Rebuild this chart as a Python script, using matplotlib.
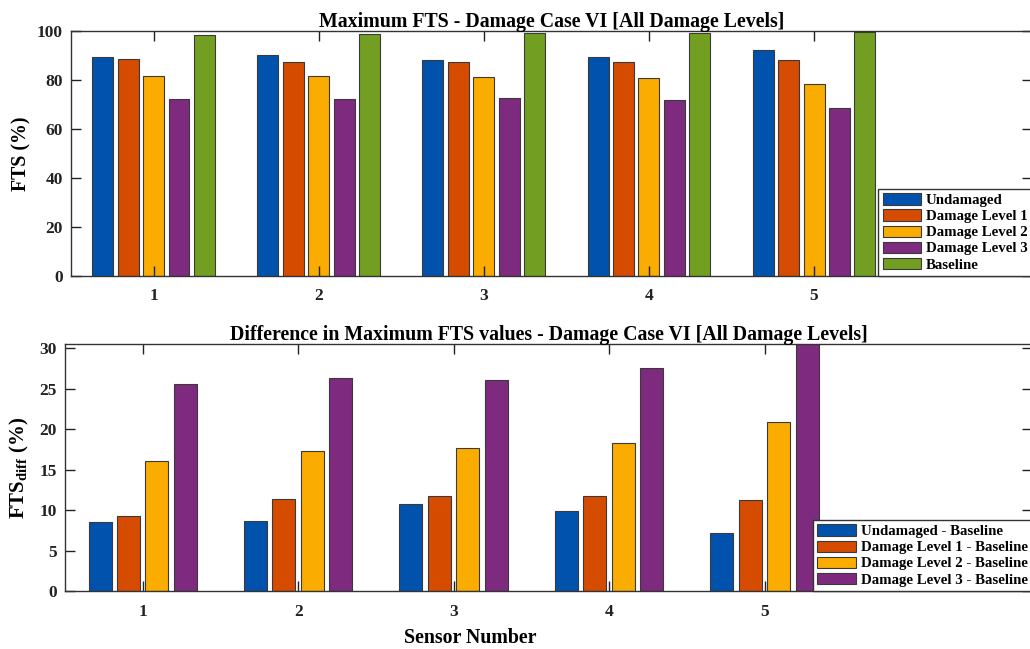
import matplotlib
matplotlib.use('Agg')
import matplotlib.pyplot as plt
import numpy as np

plt.rcParams['font.family'] = ['Liberation Serif', 'DejaVu Serif']
plt.rcParams['font.weight'] = 'bold'
plt.rcParams['mathtext.fontset'] = 'custom'
plt.rcParams['mathtext.rm'] = 'Liberation Serif:bold'
plt.rcParams['mathtext.bf'] = 'Liberation Serif:bold'

#data
sensors = [1, 2, 3, 4, 5]
undamaged = [89.5, 90.1, 88.3, 89.2, 92.1]
level1 = [88.7, 87.5, 87.2, 87.3, 88.0]
level2 = [81.7, 81.6, 81.3, 80.9, 78.2]
level3 = [72.2, 72.2, 72.7, 71.7, 68.4]
baseline = [98.2, 98.9, 99.2, 99.2, 99.6]
top_labels = ['Undamaged', 'Damage Level 1', 'Damage Level 2', 'Damage Level 3', 'Baseline']

diff_undamaged = [8.48, 8.6, 10.78, 9.88, 7.16]
diff_level1 = [9.22, 11.4, 11.77, 11.77, 11.23]
diff_level2 = [16.05, 17.28, 17.65, 18.3, 20.86]
diff_level3 = [25.6, 26.3, 26.1, 27.5, 31.2]
bottom_labels = ['Undamaged - Baseline', 'Damage Level 1 - Baseline',
                 'Damage Level 2 - Baseline', 'Damage Level 3 - Baseline']

colors = ['#0052AC', '#D54B00', '#FAAC00', '#7E2A7E', '#729F21']
edge = '#3a3a3a'

fig = plt.figure(figsize=(10.30, 6.49), dpi=100)

def style(ax):
    ax.tick_params(direction='in', top=True, right=True, length=7, width=1,
                   labelsize=12.5, colors='#222222', pad=6)
    ax.tick_params(axis='x', pad=9)
    for s in ax.spines.values():
        s.set_color('#333333')
        s.set_linewidth(1.0)
    ax.set_xticks(sensors)

def add_legend(ax):
    leg = ax.legend(loc='lower right', fontsize=10.7, fancybox=False, borderaxespad=0,
                    handlelength=2.6, handleheight=0.8, labelspacing=0.15,
                    handletextpad=0.3, borderpad=0.3, framealpha=1)
    leg.get_frame().set_edgecolor('#333333')
    leg.get_frame().set_linewidth(1.0)

#top chart
ax1 = fig.add_axes([71/1030, 1-276/649, (1032-71)/1030, (276-31)/649])
x = np.array(sensors)
series = [undamaged, level1, level2, level3, baseline]
for i, vals in enumerate(series):
    ax1.bar(x + (i-2)*0.154, vals, width=0.127, color=colors[i], edgecolor=edge,
            linewidth=0.8, label=top_labels[i])
ax1.set_xlim(0.5, 6.32)
ax1.set_ylim(0, 100)
ax1.set_yticks([0, 20, 40, 60, 80, 100])
style(ax1)
ax1.set_title('Maximum FTS - Damage Case VI [All Damage Levels]', fontsize=14.3,
              fontweight='bold', pad=3)
ax1.set_ylabel('FTS (%)', fontsize=14.3, fontweight='bold', labelpad=4)
add_legend(ax1)

#bottom chart
ax2 = fig.add_axes([65/1030, 1-591/649, (1032-65)/1030, (591-344)/649])
series2 = [diff_undamaged, diff_level1, diff_level2, diff_level3]
for i, vals in enumerate(series2):
    ax2.bar(x + (i-1.5)*0.183, vals, width=0.148, color=colors[i], edgecolor=edge,
            linewidth=0.8, label=bottom_labels[i])
ax2.set_xlim(0.5, 6.72)
ax2.set_ylim(0, 30.5)
ax2.set_yticks([0, 5, 10, 15, 20, 25, 30])
style(ax2)
ax2.set_title('Difference in Maximum FTS values - Damage Case VI [All Damage Levels]',
              fontsize=14.3, fontweight='bold', pad=3)
ax2.set_ylabel(r'FTS$_{\mathrm{diff}}$ (%)', fontsize=15, fontweight='bold', labelpad=6)
ax2.set_xlabel('Sensor Number', fontsize=14.3, fontweight='bold')
ax2.xaxis.set_label_coords((470-65)/(1032-65), -0.15)
add_legend(ax2)

fig.savefig('out.png', dpi=100)
